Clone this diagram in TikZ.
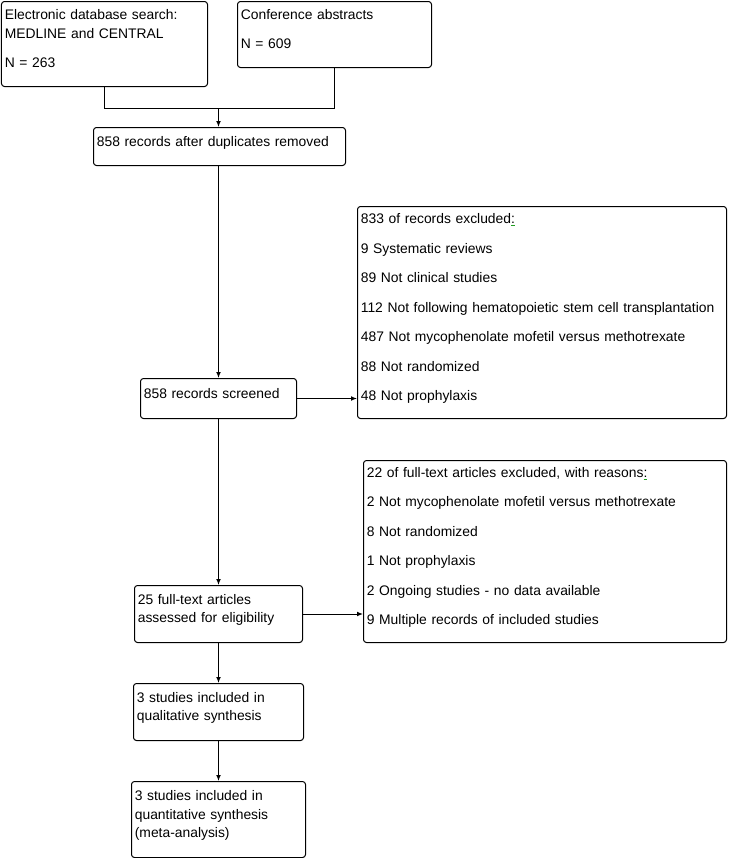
\documentclass[tikz,border=0pt]{standalone}
\usepackage{fontspec}
\setmainfont{Liberation Sans}
\usetikzlibrary{arrows.meta,positioning,calc}
\definecolor{ink}{HTML}{000000}
\definecolor{spell}{HTML}{1FA01F}
\newcommand{\flagcolon}{\textcolor{spell}{\underline{\textcolor{ink}{:}}}}
\newcommand{\lift}{\rule[-8pt]{0pt}{0pt}}
\tikzset{
  box/.style={draw=ink,line width=0.75pt,rounded corners=2.2pt,anchor=north west,
              align=left,inner xsep=2.5pt,inner ysep=2pt,
              font=\fontsize{10.4}{13.8}\selectfont},
  flow/.style={draw=ink,line width=0.75pt,-{Latex[length=4.5pt,width=3.6pt]}},
  link/.style={draw=ink,line width=0.75pt}
}
\begin{document}
\begin{tikzpicture}[x=0.75pt,y=-0.75pt]
  \useasboundingbox (0,0) rectangle (729,858);
  % identification
  \node[box,text width=149.5pt,minimum height=63.75pt] (search) at (1,1)
       {Electronic database search:\\MEDLINE and CENTRAL\\[8.3pt]N = 263\lift};
  \node[box,text width=140.5pt,minimum height=49.5pt] (abstracts) at (237,1)
       {Conference abstracts\\[8.3pt]N = 609\lift};
  \node[box,text width=184pt,minimum height=28.5pt] (dupes) at (93,127)
       {858 records after duplicates removed\lift};
  % screening
  \node[box,text width=112pt,minimum height=30pt] (screened) at (140,378)
       {858 records screened\lift};
  \node[box,text width=271.75pt,minimum height=159pt] (excl) at (357,206)
       {833 of records excluded\flagcolon\\[8.3pt]
        9 Systematic reviews\\[8.3pt]
        89 Not clinical studies\\[8.3pt]
        112 Not following hematopoietic stem cell transplantation\\[8.3pt]
        487 Not mycophenolate mofetil versus methotrexate\\[8.3pt]
        88 Not randomized\\[8.3pt]
        48 Not prophylaxis\lift};
  % eligibility
  \node[box,text width=121pt,minimum height=42.75pt] (fulltext) at (134,585)
       {25 full-text articles\\assessed for eligibility\lift};
  \node[box,text width=267.25pt,minimum height=136.5pt] (ftexcl) at (363,460)
       {22 of full-text articles excluded, with reasons\flagcolon\\[8.3pt]
        2 Not mycophenolate mofetil versus methotrexate\\[8.3pt]
        8 Not randomized\\[8.3pt]
        1 Not prophylaxis\\[8.3pt]
        2 Ongoing studies - no data available\\[8.3pt]
        9 Multiple records of included studies\lift};
  % included
  \node[box,text width=122.5pt,minimum height=42.75pt] (qual) at (133,683)
       {3 studies included in\\qualitative synthesis\lift};
  \node[box,text width=125.5pt,minimum height=57pt] (quant) at (131,781)
       {3 studies included in\\quantitative synthesis\\(meta-analysis)\lift};
  % connectors
  \coordinate (merge) at ($(search.south)+(0,21)$);
  \draw[link] (search.south) -- (merge) -| (abstracts.south);
  \draw[flow] (merge -| screened.north) -- (screened.north |- dupes.north);
  \draw[flow] (screened.north |- dupes.south) -- (screened.north);
  \draw[flow] (screened.east) -- (screened.east -| excl.west);
  \draw[flow] (screened.south) -- (fulltext.north);
  \draw[flow] (fulltext.east) -- (fulltext.east -| ftexcl.west);
  \draw[flow] (fulltext.south) -- (qual.north);
  \draw[flow] (qual.south) -- (quant.north);
\end{tikzpicture}
\end{document}
